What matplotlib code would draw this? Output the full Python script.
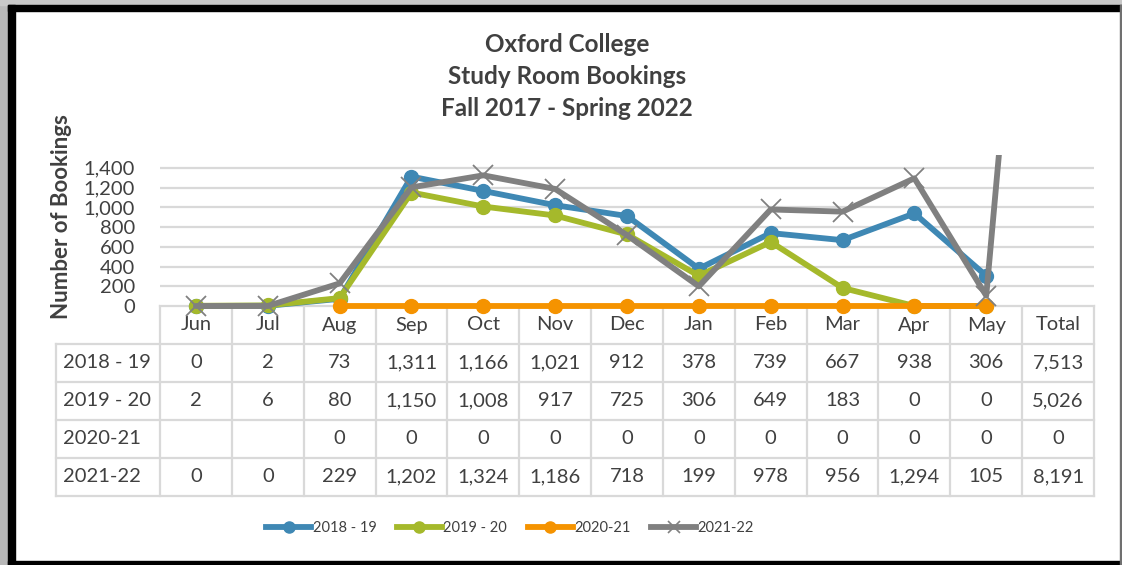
import numpy as np
import matplotlib
matplotlib.use('Agg')
import matplotlib.pyplot as plt
from matplotlib.patches import Rectangle
from matplotlib.lines import Line2D

months = ['Jun', 'Jul', 'Aug', 'Sep', 'Oct', 'Nov', 'Dec', 'Jan', 'Feb', 'Mar', 'Apr', 'May', 'Total']
series_names = ['2018 - 19', '2019 - 20', '2020-21', '2021-22']
s_1819 = [0, 2, 73, 1311, 1166, 1021, 912, 378, 739, 667, 938, 306, 7513]
s_1920 = [2, 6, 80, 1150, 1008, 917, 725, 306, 649, 183, 0, 0, 5026]
s_2021 = [None, None, 0, 0, 0, 0, 0, 0, 0, 0, 0, 0, 0]
s_2122 = [0, 0, 229, 1202, 1324, 1186, 718, 199, 978, 956, 1294, 105, 8191]
# how many points of each series are drawn as a line (only 2021-22 includes Total)
n_plotted = [12, 12, 12, 13]
y_ticks = [0, 200, 400, 600, 800, 1000, 1200, 1400]
title_lines = ['Oxford College', 'Study Room Bookings', 'Fall 2017 - Spring 2022']

colors = ['#3F88B4', '#A5B92B', '#F59300', '#808080']
markers = ['o', 'o', 'o', 'x']
txt = '#404040'
grid_c = '#D9D9D9'
font = 'Lato'

W, H = 1122, 565
fig = plt.figure(figsize=(W / 100, H / 100), dpi=100)
plt.rcParams['font.family'] = [font, 'DejaVu Sans']

def fx(px):
    return px / W
def fy(py):
    return 1 - py / H

# plot area
left, right, top, bottom = 160, 1094, 155, 306
ax = fig.add_axes([fx(left), fy(bottom), fx(right - left), (bottom - top) / H])
all_series = [s_1819, s_1920, s_2021, s_2122]
x = np.arange(len(months))
# clip only at the top / sides so markers sitting on 0 stay whole
clip = Rectangle((0, -0.3), 1, 1.3, transform=ax.transAxes, visible=False)
ax.add_patch(clip)
for vals, n, col, mk, name in zip(all_series, n_plotted, colors, markers, series_names):
    v = np.array([np.nan if a is None else a for a in vals[:n]], dtype=float)
    if mk == 'o':
        ln, = ax.plot(x[:n], v, color=col, lw=4.2, marker='o', ms=10, label=name,
                      solid_capstyle='round', zorder=3)
    else:
        ln, = ax.plot(x[:n], v, color=col, lw=4.2, marker='x', ms=15, mew=1.3, label=name,
                      solid_capstyle='round', zorder=3)
    ln.set_clip_path(clip)
ax.set_xlim(-0.5, len(months) - 0.5)
ax.set_ylim(0, 1530)
ax.set_yticks(y_ticks)
ax.set_yticklabels([f'{t:,}' for t in y_ticks], fontsize=14.5, color=txt)
ax.set_xticks([])
ax.tick_params(axis='y', length=0, pad=18)
ax.grid(axis='y', color=grid_c, lw=1.6)
ax.set_axisbelow(True)
for s in ax.spines.values():
    s.set_visible(False)

# data table below the plot area
label_left = 56
row_h = 38
tab = fig.add_axes([fx(label_left), fy(bottom + 5 * row_h), fx(right - label_left), 5 * row_h / H])
tab.set_zorder(-1)
col_w = (right - left) / len(months)
lab_w = (left - label_left) / col_w
tab.set_xlim(-0.5 - lab_w, len(months) - 0.5)
tab.set_ylim(5, 0)
tab.axis('off')
lc = grid_c
lw = 1.6
# header row: vertical lines only between month columns
for i in range(len(months) + 1):
    tab.plot([i - 0.5, i - 0.5], [0, 5], color=lc, lw=lw, clip_on=False)
tab.plot([-0.5 - lab_w] * 2, [1, 5], color=lc, lw=lw, clip_on=False)
tab.plot([-0.5, len(months) - 0.5], [0, 0], color=lc, lw=lw, clip_on=False)
for r in range(1, 6):
    tab.plot([-0.5 - lab_w, len(months) - 0.5], [r, r], color=lc, lw=lw, clip_on=False)
for i, m in enumerate(months):
    tab.text(i, 0.5, m, ha='center', va='center', fontsize=14.5, color=txt)
for r, (name, vals) in enumerate(zip(series_names, all_series)):
    tab.text(-0.5 - lab_w + 0.1, r + 1.5, name, ha='left', va='center', fontsize=14.5, color=txt)
    for i, v in enumerate(vals):
        if v is None:
            continue
        tab.text(i, r + 1.5, f'{v:,}', ha='center', va='center', fontsize=14.5, color=txt)

# titles
for k, t in enumerate(title_lines):
    fig.text(fx(567), fy(45 + 32 * k), t, ha='center', va='center', fontsize=17.5,
             fontweight='bold', color=txt)
fig.text(fx(62), fy(217), 'Number of Bookings', rotation=90, ha='center', va='center',
         fontsize=16, fontweight='bold', color=txt)

# legend
handles = []
for col, mk, name in zip(colors, markers, series_names):
    if mk == 'o':
        handles.append(Line2D([], [], color=col, lw=4.2, marker='o', ms=8, label=name))
    else:
        handles.append(Line2D([], [], color=col, lw=4.2, marker='x', ms=9, mew=1.2, label=name))
fig.legend(handles=handles, loc='center', bbox_to_anchor=(fx(510), fy(528)), ncol=4,
           frameon=False, fontsize=10.5, handlelength=3.1, handletextpad=0.1,
           columnspacing=1.4, labelcolor=txt)

# outer frame: shadow, black border
fig.add_artist(Rectangle((0, 0), fx(8), 1, transform=fig.transFigure, color='#B8B8B8', zorder=0))
fig.add_artist(Rectangle((0, fy(5)), 1, 5 / H, transform=fig.transFigure, color='#C8C8C8', zorder=0))
fig.add_artist(Rectangle((fx(8), 0), fx(7), fy(5), transform=fig.transFigure, color='black', zorder=5))
fig.add_artist(Rectangle((fx(8), fy(11)), 1, 6 / H, transform=fig.transFigure, color='black', zorder=5))
fig.add_artist(Rectangle((fx(8), 0), 1, 4.5 / H, transform=fig.transFigure, color='black', zorder=5))
fig.add_artist(Rectangle((fx(1120), 0), fx(2), fy(5), transform=fig.transFigure, color='#707070', zorder=5))

fig.savefig('out.png', dpi=100)
